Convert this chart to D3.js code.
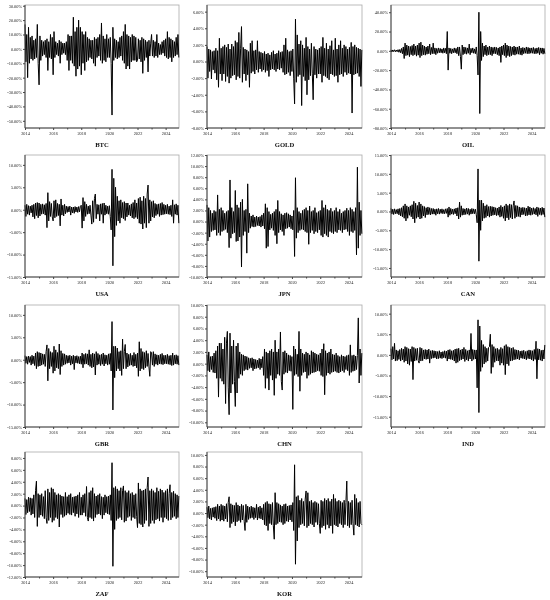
<!DOCTYPE html>
<html>
<head>
<meta charset="utf-8">
<script src="https://cdn.jsdelivr.net/npm/d3@7"></script>
<style>
  body { margin: 0; background: #fff; }
  svg { will-change: transform; }
  text { font-family: "Liberation Serif", "Times New Roman", serif; }
</style>
</head>
<body>
<svg id="chart" width="550" height="600"></svg>
<script>
// daily returns (%), 16 samples per year from 2014 to 2024
const btc = [
  17, -9, 10, -20, 15, -10, 8, -7, 9, -8, 6, -7, 7, -6, 17, -10,
  -25, 9, -8, 6, -5, 5, -4, 6, -6, 7, -15, 5, -6, 10, -7, 8,
  -18, 12, -6, 5, -4, 4, -5, 6, -10, 5, -4, 4, -3, 4, -4, 5,
  -8, 10, -15, 9, -8, 9, -10, 22, -12, 12, -19, 15, -14, 20, -12, 15,
  -18, 12, -10, 10, -15, 12, -9, 8, -8, 7, -6, 6, -7, 6, -10, 8,
  -12, 7, -6, 8, -5, 10, -8, 18, -10, 9, -8, 7, -9, 10, -6, 7,
  -6, 8, -10, -46, 15, -8, 7, -6, 6, -7, 5, -6, 8, -5, 9, -8,
  12, -10, 17, -14, 10, -12, 9, -14, 8, -9, 10, -8, 9, -8, 8, -9,
  -8, 7, -7, 6, -9, 8, -17, 7, -8, 6, -6, 5, -16, 6, -5, 4,
  10, -5, 6, -6, 5, -5, 10, -6, 4, -4, 3, -4, 5, -3, 6, -5,
  7, -6, 12, -7, 8, -6, 7, -9, 6, -6, 5, -5, 8, -4, 10, -6
];
const gold = [
  1.8, -2.0, 1.5, -1.2, 1.4, -2.1, 1.2, -1.0, 1.3, -1.4, 1.6, -2.2, 1.3, -3.1, 2.8, -1.5,
  1.6, -2.3, 1.8, -1.5, 2.0, -2.4, 1.7, -1.8, 2.1, -2.6, 1.5, -2.0, 2.1, -1.7, 1.8, -1.6,
  2.5, -2.2, 2.3, -1.8, 3.5, -2.0, 1.6, 4.2, -2.5, 1.7, -1.5, 1.5, -2.3, 1.4, -1.6, 1.2,
  -3.1, 2.2, -1.4, 2.5, -1.2, 1.3, -1.5, 1.4, -1.0, 2.5, -1.3, 1.2, -0.9, 1.1, -1.2, 1.0,
  -1.0, 1.2, -1.3, 0.9, -1.1, 1.0, -1.8, 0.8, -1.0, 1.1, -0.9, 1.3, -1.0, 0.9, -1.2, 1.0,
  -0.9, 1.3, -1.0, 1.1, -0.8, 1.2, -1.3, 2.0, -1.6, 2.8, -1.5, 1.4, -1.3, 1.2, -1.7, 1.3,
  -1.2, 1.5, -2.0, -5.1, 5.1, -2.5, 3.2, -1.8, 2.1, -1.6, 2.5, -5.3, 2.0, -1.8, 1.6, -2.3,
  2.9, -4.0, 1.8, -2.2, 1.5, -1.7, 2.2, -1.4, -4.6, 1.8, -1.6, 1.5, -2.0, 1.4, -1.5, 1.6,
  -1.5, 1.8, -2.5, 2.9, -1.7, 1.6, -1.8, 2.2, -2.0, 1.5, -2.2, 1.9, -1.5, 2.5, -1.6, 1.4,
  -1.8, 2.8, -1.7, 1.5, -2.5, 2.0, -1.6, 2.5, -1.5, 1.6, -1.8, 2.0, -1.3, 1.8, -1.6, 1.5,
  -1.4, 1.7, -1.5, 2.3, -6.2, 1.8, -1.6, 2.0, -1.5, 1.7, -1.4, 1.6, -1.8, 1.5, -3.0, 1.4
];
const oil = [
  1.0, -1.2, 0.9, -0.8, 1.1, -1.0, 0.8, -0.9, 1.2, -1.5, 1.4, -2.0, 2.5, -3.0, 4.0, -8.0,
  8.0, -5.0, 6.0, -4.5, 5.0, -6.0, 4.5, -4.0, 5.5, -5.0, 7.0, -4.0, 5.0, -5.5, 6.0, -4.5,
  8.0, -7.0, 9.0, -5.0, 6.0, -4.0, 5.0, -4.5, 4.0, -3.5, 5.0, -3.0, 7.0, -4.0, 3.5, -3.0,
  8.0, -3.0, 3.0, -4.0, 2.5, -2.5, 3.0, -2.0, 2.5, -2.0, 2.0, -2.5, 3.0, -2.0, 2.5, -3.0,
  20.0, -20.0, 3.0, -2.5, 2.5, -3.0, 2.0, -2.0, 3.0, -2.0, 2.5, -3.0, 4.0, -5.0, 4.0, -6.0,
  -19.0, 6.0, -4.0, 4.0, -3.0, 3.5, -3.5, 3.0, -2.5, 7.0, -4.0, 2.5, -2.0, 3.0, -2.5, 2.0,
  -3.0, 4.0, -5.0, -25.0, 40.0, -65.0, 20.0, -10.0, 8.0, -6.0, 5.0, -4.0, 6.0, -5.0, 4.0, -4.0,
  5.0, -4.0, 4.0, -5.0, 3.5, -3.0, 4.0, -3.0, 3.5, -4.0, 3.0, -5.0, 4.0, -12.0, 5.0, -4.0,
  6.0, -5.0, 8.0, -7.0, 6.0, -5.0, 5.0, -6.0, 4.5, -5.0, 4.0, -4.0, 5.0, -4.5, 4.0, -3.5,
  4.0, -3.5, 5.0, -4.0, 3.0, -4.5, 3.5, -3.0, 3.0, -2.5, 4.0, -3.0, 3.5, -3.0, 3.0, -2.5,
  3.0, -2.5, 3.5, -3.0, 2.5, -3.0, 3.0, -2.5, 3.5, -4.0, 3.0, -2.5, 3.0, -3.5, 2.5, -3.0
];
const usa = [
  1.0, -1.5, 1.2, -1.0, 0.9, -1.2, 0.8, -0.7, 1.0, -1.6, 1.2, -2.0, 1.5, -1.3, 1.6, -1.8,
  1.5, -1.4, 1.2, -1.0, 1.3, -0.9, 1.1, -1.2, 1.4, -4.0, 3.8, -2.5, 1.8, -1.5, 1.4, -1.6,
  -2.5, 2.0, -1.8, 2.2, -1.5, 1.4, -1.3, 1.2, -3.6, 2.4, -1.2, 1.0, -1.4, 1.2, -0.9, 0.8,
  -0.6, 0.7, -0.5, 0.8, -1.2, 0.6, -0.7, 0.6, -0.8, 0.7, -0.5, 0.6, -0.6, 0.7, -0.5, 0.8,
  1.0, -4.1, 2.7, -2.5, 1.8, -1.5, 1.2, -1.0, 0.8, -0.9, 1.0, -1.2, -3.2, 2.0, -2.8, 2.5,
  3.5, -2.0, 1.2, -1.0, 1.1, -2.5, 1.3, -1.0, 1.4, -3.0, 1.5, -1.2, 1.0, -0.9, 0.8, -1.0,
  0.9, -1.5, -4.5, 9.0, -12.5, 7.0, -6.0, 5.0, -3.5, 3.0, -2.5, 2.0, -3.0, 2.2, -1.8, 1.6,
  -2.0, 1.8, -2.4, 1.5, -1.6, 1.5, -1.2, 1.0, -1.4, 1.3, -1.8, 1.6, -2.0, 2.2, -1.7, 1.5,
  -2.0, 2.5, -3.0, 2.8, -3.2, 2.0, -4.3, 3.0, -3.0, 2.5, -4.0, 3.5, 5.5, -3.0, 2.2, -2.5,
  1.8, -1.6, 2.0, -1.8, 1.4, -1.3, 1.2, -1.0, 1.3, -1.5, 1.4, -1.2, 1.6, -1.1, 1.2, -1.0,
  1.0, -0.9, 1.2, -1.0, 0.8, -1.1, 1.0, -1.5, 2.2, -3.0, 1.1, -1.0, 1.3, -1.2, 1.0, -3.0
];
const jpn = [
  3.0, -3.5, 2.5, -2.8, 2.0, -1.8, 1.5, -1.6, 2.0, -1.5, 1.8, -2.5, 4.8, -2.0, 2.2, -2.5,
  2.5, -1.8, 2.0, -1.6, 1.5, -1.4, 1.8, -2.0, 2.0, -4.7, 7.5, -3.0, 2.5, -2.2, 1.8, -2.0,
  5.6, -3.6, 3.0, -3.5, 2.5, -2.8, 3.5, -8.2, 4.0, -2.5, 2.0, -1.8, 2.2, -5.7, 6.8, -2.0,
  1.5, -1.2, 1.0, -0.9, 1.2, -1.0, 0.8, -0.9, 1.0, -0.7, 0.8, -0.8, 0.9, -1.0, 1.2, -0.8,
  1.5, -1.3, 3.2, -4.8, 2.5, -4.5, 1.8, -1.5, 1.3, -1.2, 1.5, -1.6, 1.8, -2.5, 2.2, -4.0,
  3.8, -2.0, 1.8, -1.5, 1.4, -1.8, 1.2, -2.5, 1.5, -1.3, 1.6, -1.2, 1.4, -1.0, 1.2, -1.3,
  1.0, -1.5, 2.0, -6.3, 7.9, -3.0, 2.5, -2.0, 1.8, -1.6, 1.5, -1.4, 2.0, -1.5, 2.2, -1.8,
  2.5, -2.0, 2.0, -4.1, 2.8, -2.0, 1.8, -1.6, 2.0, -2.2, 2.5, -1.8, 1.6, -2.0, 1.8, -1.5,
  2.0, -2.5, 3.8, -2.8, 2.5, -2.2, 3.0, -2.5, 2.2, -2.8, 2.0, -1.8, 2.4, -2.0, 1.8, -2.2,
  2.0, -1.8, 2.5, -2.0, 1.8, -1.5, 2.2, -1.6, 1.5, -2.0, 1.8, -1.5, 2.0, -1.4, 2.4, -1.8,
  2.0, -2.5, 2.5, -1.8, 2.2, -2.0, 1.8, -1.6, 2.5, -6.0, 9.8, -4.8, 3.5, -2.5, 2.0, -2.2
];
const can = [
  0.8, -0.7, 0.6, -0.8, 0.7, -0.6, 0.5, -0.6, 0.7, -0.9, 0.8, -1.2, 1.0, -1.4, 1.5, -1.8,
  2.0, -2.5, 1.5, -1.8, 1.2, -1.0, 1.5, -1.4, 1.8, -2.0, 2.7, -3.0, 2.2, -1.8, 1.6, -1.5,
  2.5, -2.0, 2.0, -1.8, 1.5, -1.2, 1.3, -1.6, 1.0, -0.9, 1.2, -0.8, 1.0, -0.9, 0.8, -0.7,
  0.8, -0.7, 0.6, -1.0, 0.7, -0.6, 0.8, -0.7, 0.6, -0.5, 0.7, -0.6, 0.5, -0.6, 0.7, -0.5,
  0.8, -1.5, 1.2, -1.0, 0.8, -0.7, 0.6, -0.8, 0.7, -0.6, 0.9, -1.2, 1.0, -2.0, 2.5, -1.5,
  1.5, -1.0, 0.8, -0.9, 0.7, -0.8, 0.9, -0.7, 0.8, -1.0, 0.6, -0.7, 0.8, -0.6, 0.7, -0.6,
  0.6, -0.8, -3.0, 11.3, -13.2, 3.0, -5.0, 3.0, -2.5, 2.2, -1.8, 1.5, -1.6, 1.8, -1.2, 1.3,
  -1.5, 1.4, -1.2, 1.3, -1.0, 1.2, -0.9, 1.0, -1.1, 0.9, -1.0, 1.2, -1.5, 1.6, -1.3, 1.2,
  -1.8, 1.5, -2.5, 2.0, -1.7, 1.6, -2.2, 2.0, -1.6, 1.8, -2.0, 1.5, 2.8, -1.8, 1.6, -1.4,
  1.5, -1.3, 1.2, -1.5, 1.0, -0.9, 1.1, -0.8, 1.0, -1.2, 0.9, -1.1, 1.4, -0.9, 1.2, -1.0,
  0.9, -0.8, 1.0, -0.7, 0.8, -0.9, 1.2, -1.3, 1.0, -0.8, 0.9, -1.0, 1.1, -0.8, 0.9, -1.5
];
const gbr = [
  0.9, -0.8, 0.7, -1.0, 0.8, -0.6, 0.7, -1.2, 1.0, -0.9, 0.8, -1.3, 1.5, -2.0, 1.8, -1.5,
  1.6, -1.4, 1.5, -1.2, 1.3, -1.0, 1.2, -1.5, 1.8, 3.3, -4.7, 2.5, -2.0, 1.8, -1.5, 1.6,
  -3.0, 3.0, -2.5, 2.2, -1.8, 1.6, -2.0, 3.5, -3.3, 2.0, -1.5, 1.4, -1.2, 1.3, -1.0, 1.0,
  -0.8, 0.9, -0.7, 1.0, -1.2, 0.8, -0.9, 1.0, -2.2, 0.8, -0.7, 0.9, -0.8, 0.7, -0.9, 0.8,
  -1.0, 1.5, -1.8, 1.2, -1.0, 1.4, -0.9, 1.3, -1.2, 2.2, -1.5, 1.2, -1.8, 1.5, -1.6, 1.3,
  -3.4, 1.8, -1.2, 1.4, -1.0, 1.1, -1.3, 1.2, -1.0, 1.5, -1.4, 1.1, -0.9, 1.0, -1.2, 1.3,
  -1.0, 1.4, -2.5, 8.5, -11.2, 3.0, -4.0, 3.0, -2.5, 2.6, -2.0, 1.8, -2.5, 2.0, -3.5, 4.6,
  -2.0, 1.8, 3.4, -2.0, 1.5, -1.6, 1.2, -1.3, 1.4, -1.2, 1.0, -1.5, 1.6, -1.4, 1.2, -1.8,
  1.5, -3.7, 4.0, -2.5, 2.5, -2.0, 1.8, -2.2, 1.6, -1.8, 2.0, -1.5, 1.4, -1.6, -3.7, 1.8,
  1.5, -1.2, 1.8, -1.5, 1.3, -1.0, 1.1, -1.2, 1.0, -0.9, 1.2, -1.0, 1.4, -1.1, 1.0, -0.9,
  1.0, -0.9, 1.2, -1.0, 0.9, -1.1, 1.0, -1.3, 1.5, -1.2, 1.0, -0.9, 1.1, -1.0, 0.9, -1.2
];
const chn = [
  1.5, -1.2, 2.0, -1.4, 1.2, -1.0, 1.3, -1.5, 1.8, -1.6, 2.2, -2.5, 3.0, -5.7, 3.5, -2.5,
  3.5, -3.0, 2.5, -3.5, 4.5, -6.8, 3.5, 5.5, -4.0, -8.7, 5.2, -5.0, 3.0, -3.5, 4.0, -3.0,
  -7.3, 3.0, -5.0, 3.5, -2.5, 2.0, -1.8, 1.6, -2.0, 1.5, -1.2, 1.3, -1.0, 1.2, -1.1, 1.0,
  -0.8, 0.9, -0.7, 1.0, -1.2, 0.8, -0.9, 0.7, -0.8, 0.6, -0.7, 0.9, -1.0, 0.8, -0.7, 1.2,
  -2.0, 2.5, -4.2, 2.0, -2.5, 1.8, -4.5, 2.2, -2.0, 2.5, -2.8, 2.0, -5.4, 4.0, -2.5, 2.0,
  -1.8, 2.5, -2.0, 5.4, -3.0, -4.5, 2.0, -1.8, 2.2, -1.5, 1.8, -1.6, 1.5, -1.2, 1.4, -1.3,
  1.2, -7.8, 3.0, -2.0, 2.5, -1.8, 1.6, -2.2, 5.5, -4.7, 2.5, -2.0, 1.8, -1.5, 1.6, -1.4,
  2.0, -2.5, 1.8, -2.0, 1.5, -1.8, 2.2, -1.6, 2.0, -1.5, 1.8, -1.4, 1.6, -1.2, 1.5, -1.3,
  1.8, -2.0, 2.5, -2.2, 3.4, -5.3, 2.2, -2.0, 1.8, -1.6, 2.0, -1.8, 2.5, -1.5, 1.6, -1.4,
  1.5, -1.3, 1.8, -1.5, 1.4, -1.6, 1.2, -1.4, 1.5, -1.2, 1.3, -1.5, 1.2, -1.0, 1.4, -1.2,
  1.5, -2.0, 3.2, -1.5, 1.4, -1.3, 1.5, -1.2, 1.3, -1.0, 1.4, 7.8, -3.3, 2.5, -2.0, 1.8
];
const ind = [
  1.5, -1.2, 2.0, -1.0, 2.8, -1.5, 1.2, -1.4, 1.0, -1.1, 1.3, -1.5, 1.6, -1.2, 1.4, -1.8,
  2.0, -1.5, 1.8, -2.2, 1.5, -2.5, 1.4, -1.6, 2.0, -6.0, 1.8, -1.5, 1.5, -1.3, 1.6, -1.4,
  -2.0, 1.8, -1.5, 1.6, -1.4, 1.2, -1.0, 1.3, -1.1, 1.2, -1.0, 1.4, -2.0, 1.0, -0.9, 1.1,
  -0.8, 1.0, -0.7, 0.9, -1.0, 0.8, -0.9, 1.0, -0.8, 0.7, -0.9, 0.8, -0.7, 1.0, -0.8, 0.9,
  -1.5, 1.2, -1.0, 1.3, -1.1, 1.0, -1.2, 1.1, -1.5, 1.4, -2.0, 1.5, -1.8, 1.6, -1.4, 1.2,
  -1.2, 1.4, -1.0, 1.8, -1.6, 1.3, -1.2, 1.0, -1.5, 1.2, -1.0, 5.2, -1.5, 1.3, -1.1, 1.2,
  -1.0, 1.2, -8.0, 8.5, -14.0, 7.0, -4.0, 3.5, -3.0, 2.5, -2.2, 2.0, -1.8, 1.6, -1.5, 1.8,
  2.0, 5.0, -4.5, 2.5, -3.0, 2.0, -1.8, 1.5, -1.4, 1.6, -1.5, 1.3, -2.5, 1.8, -2.0, 1.5,
  -2.5, 2.2, -4.8, 2.5, -2.2, 2.0, -2.6, 1.8, -1.5, 1.6, -1.4, 1.8, -1.2, 1.3, -1.1, 1.2,
  -1.0, 1.1, -1.2, 0.9, -0.8, 1.0, -0.9, 1.1, -1.0, 0.8, -1.2, 1.0, -0.9, 1.2, -1.0, 1.1,
  -1.2, 1.0, -1.5, 1.3, -1.1, 3.3, -5.8, 1.5, -1.2, 1.4, -1.3, 1.1, -1.5, 1.2, -1.0, 2.4
];
const zaf = [
  1.2, -1.5, 1.0, -1.2, 1.4, -1.0, 1.3, -1.6, 1.2, -1.4, 1.8, -2.0, 2.5, 4.1, -3.5, 2.0,
  -2.0, 1.8, -1.6, 2.0, -1.8, 1.5, -2.2, 2.5, -2.0, -3.0, 2.8, -2.5, 2.2, -2.0, 3.0, -2.8,
  2.8, -2.5, 2.2, -2.0, 1.8, -2.2, 2.0, -3.6, 1.8, -1.5, 1.6, -2.0, 1.5, -1.8, 2.2, -1.6,
  1.5, -1.3, 1.8, -1.5, 2.0, -1.6, 1.4, -1.2, 1.5, -1.8, 1.6, -1.4, 1.8, -2.0, 2.2, -1.6,
  1.4, -1.6, 1.8, -1.2, 2.0, -1.8, 3.2, -2.0, -2.6, 2.2, -2.0, 2.5, -2.2, 3.0, -2.6, 2.0,
  -2.0, 1.6, -1.5, 1.8, -1.4, 2.0, -1.6, 1.5, -2.2, 1.4, -1.6, 1.8, -1.2, 1.5, -1.4, 1.6,
  -1.5, 1.8, -2.5, 7.2, -10.2, 3.0, -4.0, 3.2, -2.5, 2.8, -2.2, 2.5, -2.0, 3.0, -2.4, 2.5,
  3.3, -2.8, 2.5, -2.6, 2.2, -2.0, 2.5, -1.8, 2.0, -2.5, 2.2, -2.0, 1.8, -2.2, 2.0, -1.8,
  -3.7, 3.8, -3.0, 2.8, -3.2, 2.5, -3.6, 2.6, -3.0, 2.8, -2.5, 3.0, 4.8, -3.5, 2.5, -3.0,
  2.8, -2.5, 2.5, -3.0, 2.2, -2.4, 3.0, -2.2, 2.4, -2.6, 2.8, -2.0, 2.6, -2.8, 2.2, -2.0,
  2.5, -2.2, 2.8, -2.5, 2.0, 3.5, -2.4, 2.2, -2.0, 2.4, -1.8, 2.0, -2.2, 1.8, -2.0, 1.6
];
const kor = [
  1.0, -0.8, 1.2, -1.0, 0.8, -1.2, 0.9, -0.7, 1.0, -0.9, 1.1, -1.3, 1.5, -1.0, 1.2, -1.4,
  1.5, -1.2, 1.3, -1.4, 1.2, -1.0, 1.6, -1.5, 1.8, 2.8, -2.5, 1.6, -1.8, 1.4, -1.5, 1.3,
  -2.2, 1.8, -1.5, 1.4, -1.3, 1.2, -1.6, 1.5, -1.2, 1.3, -1.4, -3.0, 1.5, -1.6, 1.2, -1.1,
  1.0, -0.9, 1.2, -0.8, 1.0, -1.1, 0.9, -0.8, 1.5, -1.2, 1.0, -0.9, 1.2, -1.0, 0.9, -1.2,
  1.5, -2.0, 1.8, -2.2, 2.0, -3.0, 1.6, -1.8, 1.5, -2.0, 1.8, -2.2, -4.5, 3.5, -2.0, 1.8,
  -1.8, 1.6, -1.5, 1.4, -1.6, 1.2, -2.0, 1.5, -1.8, 1.6, -1.4, 1.2, -1.5, 1.3, -1.2, 1.4,
  -1.5, 1.8, -3.0, 8.3, -8.8, 2.8, -4.8, 3.0, -2.5, 2.2, -2.0, 2.5, -1.8, 2.0, -2.2, 2.4,
  3.8, -2.5, 3.5, -2.2, 2.0, -1.8, 2.2, -2.0, 1.8, -2.4, 2.0, -1.6, 1.8, -2.0, 1.6, -1.8,
  -3.5, 2.2, -2.5, 2.0, -2.2, 2.5, -2.8, 2.2, -2.0, 2.5, -2.6, 2.0, -2.2, 2.4, -3.5, 3.2,
  -2.0, 2.5, -2.2, 2.0, -2.4, 2.2, -1.8, 2.0, -2.0, 1.8, -2.5, 2.2, -2.0, 1.8, 5.5, -2.2,
  2.0, -2.5, 1.8, -2.0, 2.2, -1.8, -3.8, 3.2, -2.0, 2.5, -2.2, 1.8, -2.4, 2.0, -1.8, -2.0
];

const names = ["BTC", "GOLD", "OIL", "USA", "JPN", "CAN", "GBR", "CHN", "IND", "ZAF", "KOR"];
const series = [btc, gold, oil, usa, jpn, can, gbr, chn, ind, zaf, kor];
// y axis extent and tick labels of each panel
const yDomains = [[-55, 30.5], [-8, 6.8], [-80, 47.5], [-15, 12.2], [-10, 12], [-17.4, 15],
                  [-15, 12.2], [-10.8, 10], [-17.5, 12.1], [-12, 9], [-11, 10.5]];
const yTicks = [
  [30, 20, 10, 0, -10, -20, -30, -40, -50],
  [6, 4, 2, 0, -2, -4, -6, -8],
  [40, 20, 0, -20, -40, -60, -80],
  [10, 5, 0, -5, -10, -15],
  [12, 10, 8, 6, 4, 2, 0, -2, -4, -6, -8, -10],
  [15, 10, 5, 0, -5, -10, -15],
  [10, 5, 0, -5, -10, -15],
  [10, 8, 6, 4, 2, 0, -2, -4, -6, -8, -10],
  [10, 5, 0, -5, -10, -15],
  [8, 6, 4, 2, 0, -2, -4, -6, -8, -10, -12],
  [10, 8, 6, 4, 2, 0, -2, -4, -6, -8, -10]
];
const yearTicks = [2014, 2016, 2018, 2020, 2022, 2024];
const minorYears = [2015, 2017, 2019, 2021, 2023];
const startYear = 2014, perYear = 16;

const colLeft = [25, 207, 391], colRight = [179, 362, 545];
const rowTop = [5, 155, 305, 452], rowBottom = [128, 277, 427, 577];

const svg = d3.select("#chart");
const fmt = d => d.toFixed(2) + "%";

series.forEach(function(values, i) {
    let col = i % 3, row = Math.floor(i / 3);
    let x = d3.scaleLinear().domain([2014, 2024.95]).range([colLeft[col], colRight[col]]);
    let y = d3.scaleLinear().domain(yDomains[i]).range([rowBottom[row], rowTop[row]]);

    let g = svg.append("g").attr("class", "panel");

    g.append("rect")
        .attr("x", colLeft[col])
        .attr("y", rowTop[row])
        .attr("width", colRight[col] - colLeft[col])
        .attr("height", rowBottom[row] - rowTop[row])
        .style("fill", "none")
        .style("stroke", "#aaa")
        .style("stroke-width", 0.8);

    let line = d3.line()
        .x((d, j) => x(startYear + j / perYear))
        .y(d => y(d));

    g.append("path")
        .datum(values)
        .attr("d", line)
        .style("fill", "none")
        .style("stroke", "#000")
        .style("stroke-width", 1);

    let yAxis = g.append("g")
        .attr("transform", "translate(" + colLeft[col] + ",0)")
        .call(d3.axisLeft(y).tickValues(yTicks[i]).tickSize(2).tickPadding(1).tickFormat(fmt));
    yAxis.select(".domain").attr("d", "M0," + rowTop[row] + "V" + rowBottom[row]).style("stroke", "#444");
    yAxis.selectAll("line").style("stroke", "#444");
    yAxis.selectAll("text").style("font-size", "4.3px").style("fill", "#222");

    let xAxis = g.append("g")
        .attr("transform", "translate(0," + rowBottom[row] + ")")
        .call(d3.axisBottom(x).tickValues(yearTicks).tickSize(2).tickPadding(1.5).tickFormat(d3.format("d")));
    xAxis.select(".domain").attr("d", "M" + colLeft[col] + ",0H" + colRight[col]).style("stroke", "#444");
    xAxis.selectAll("line").style("stroke", "#444");
    xAxis.selectAll("text").style("font-size", "4.3px").style("fill", "#222");

    g.append("g")
        .attr("transform", "translate(0," + rowBottom[row] + ")")
        .call(d3.axisBottom(x).tickValues(minorYears).tickSize(1.5).tickFormat(""))
        .call(a => a.select(".domain").remove())
        .selectAll("line").style("stroke", "#444");

    g.append("text")
        .attr("x", (colLeft[col] + colRight[col]) / 2)
        .attr("y", rowBottom[row] + 19)
        .attr("text-anchor", "middle")
        .style("font-size", "6.6px")
        .style("font-weight", "bold")
        .style("fill", "#111")
        .text(names[i]);
});
</script>
</body>
</html>
